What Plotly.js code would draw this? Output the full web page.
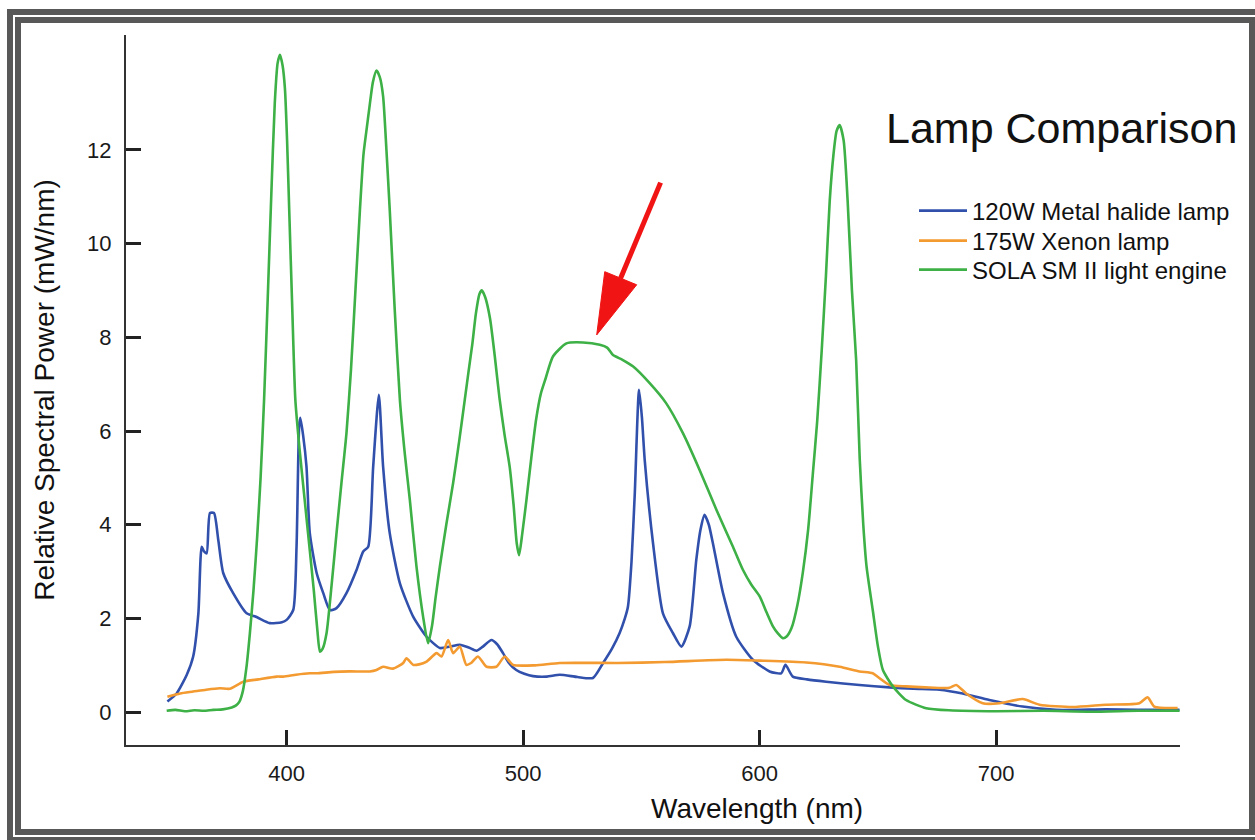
<!DOCTYPE html>
<html>
<head>
<meta charset="utf-8">
<script src="https://cdn.plot.ly/plotly-3.0.1.min.js"></script>
<style>
  html, body { margin: 0; padding: 0; background: #ffffff; }
  #wrap { position: relative; width: 1255px; height: 840px; overflow: hidden; }
  #chart { position: absolute; left: 0; top: 0; width: 1255px; height: 840px; }
  .frame { position: absolute; box-sizing: border-box; pointer-events: none; border-style: solid; border-color: #585858; }
  #frameOuter { left: 7px; top: 9px; width: 1262px; height: 834px; border-width: 6px; }
  #frameInner { left: 15px; top: 17px; width: 1240px; height: 818px; border-width: 6px; }
</style>
</head>
<body>
<div id="wrap">
  <div id="chart"></div>
  <div class="frame" id="frameOuter"></div>
  <div class="frame" id="frameInner"></div>
</div>
<script>
// ---------------- data ----------------
const seriesNames = ["120W Metal halide lamp", "175W Xenon lamp", "SOLA SM II light engine"];

const metalHalideWavelength = [349.6,353.5,357.8,360.5,362.7,364.1,365.1,366.2,367.6,369.3,371.1,373.2,377.4,383.1,387.3,392.9,398,400.0,402.8,404.2,405.3,405.8,407,408.4,409.8,412.7,415.5,418.3,421.1,425.3,429.6,432.4,434.5,436.6,439.0,440.8,443.6,447.9,453.5,459.2,464.8,469,473.2,477,480.3,483,486.6,489,491.5,494,497.1,500.5,504.2,510,515.5,523,529.5,533.8,537.5,540.8,543,544.3,545.8,547.2,549.0,550.2,551.4,554.9,559.1,563.3,566.9,570.4,573.2,575,576.7,578.5,580.2,584.5,590.1,597.1,604.2,609.1,610.9,614.0,620,628.1,642.2,654.9,665,676.0,685.8,697.1,711.2,725.3,746.4,760,777.5];
const metalHalidePower = [0.23,0.40,0.80,1.19,2.11,3.53,3.43,3.39,4.25,4.25,3.68,2.97,2.54,2.11,2.03,1.90,1.92,1.97,2.18,3.53,6.10,6.28,5.9,5.24,3.82,2.97,2.54,2.18,2.22,2.54,3.04,3.43,3.53,5.24,6.77,5.24,3.82,2.75,2.04,1.61,1.37,1.40,1.44,1.38,1.31,1.40,1.54,1.45,1.26,1.05,0.90,0.82,0.77,0.76,0.80,0.75,0.73,1.05,1.35,1.69,2.0,2.25,3.2,4.67,6.88,6.3,5.38,3.61,2.11,1.69,1.40,1.83,3.25,3.9,4.21,4.0,3.61,2.54,1.61,1.12,0.87,0.83,1.01,0.76,0.70,0.65,0.58,0.53,0.50,0.48,0.40,0.26,0.12,0.05,0.06,0.05,0.05];

const xenonWavelength = [349.6,355,360.5,366,371.8,376,381.7,388,395.8,398.6,404,409.8,412.7,420,426.7,435.2,438,440.8,445,449.3,450.7,453.5,456,459.2,463.4,465.5,468.3,470.4,473.2,476.0,478,480.9,484.5,488.7,492.2,495.7,505,515.5,540,560,585.9,600,619.7,633.8,642.2,647.8,650,655.0,661.9,670,680.2,683.1,687.3,694.3,701.4,711.2,718.3,732.3,746.4,760.5,764.0,766.8,776.7];
const xenonPower = [0.33,0.40,0.44,0.48,0.51,0.50,0.65,0.70,0.76,0.76,0.80,0.83,0.83,0.86,0.87,0.87,0.90,0.97,0.93,1.05,1.15,1.01,1.02,1.08,1.26,1.19,1.54,1.26,1.40,1.01,1.05,1.19,0.97,0.97,1.19,1.01,1.00,1.05,1.05,1.07,1.12,1.10,1.06,0.97,0.87,0.83,0.75,0.58,0.55,0.53,0.52,0.58,0.40,0.19,0.19,0.28,0.16,0.11,0.16,0.19,0.32,0.12,0.09];

const solaWavelength = [349.3,353,357,361,365,369,373,376.8,378.5,380,381.5,383,384.5,386,387.5,389,390.5,392,393.5,395,396.2,397.2,398.3,399.3,400.2,401.1,402.4,403.7,405.5,407.5,409.5,411.5,413,414.1,415.2,416.9,419,421.1,423.2,425.3,427.2,429.1,431.0,432.5,433.8,435,436.5,438.0,439.4,440.8,442.2,443.6,445.7,447.9,450,452.1,454.9,457.7,459.8,461.5,463,464.8,467.5,470.4,473,475.3,477,478.5,480,481.5,482.5,484,486,488,490,492.2,494.3,496,497.3,498.3,499.6,501.4,503.5,505.5,507.5,509.5,512.6,518.3,525.3,532.4,535.5,538.0,542,546.4,553.5,560.5,567.6,574.6,581.7,588.7,592.9,596.5,600.0,603,605.6,607.7,609.8,611.5,613.5,616,618.3,620.5,622.5,624.3,626.2,628,629.6,631.2,632.5,633.8,635.5,637.2,639,640.8,642.3,643.8,645.2,647.8,650,652.1,656.3,661.9,670.4,680,700,720,740,760,777.5];
const solaPower = [0.03,0.05,0.02,0.04,0.03,0.05,0.06,0.10,0.14,0.22,0.45,0.95,1.7,2.6,3.7,5.0,6.7,8.8,11.0,13.0,13.85,14.03,13.8,13.3,12.2,10.72,8.6,6.66,5.6,4.6,3.6,2.6,1.75,1.29,1.35,1.69,2.7,3.82,4.9,5.95,7.3,9.0,10.72,11.9,12.43,12.9,13.45,13.69,13.55,13.14,12.0,10.72,8.6,6.66,5.5,4.53,3.11,2.04,1.47,1.85,2.45,3.11,4.0,4.89,5.8,6.66,7.3,7.85,8.5,8.92,9.0,8.85,8.4,7.6,6.7,5.9,5.24,4.4,3.6,3.35,3.8,4.53,5.45,6.25,6.8,7.12,7.59,7.87,7.89,7.84,7.78,7.62,7.52,7.38,7.02,6.59,5.95,5.17,4.32,3.53,3.04,2.72,2.47,2.12,1.83,1.68,1.58,1.62,1.80,2.3,3.0,3.9,5.1,6.2,7.7,9.3,10.9,11.9,12.4,12.53,12.2,10.9,9.0,7.5,5.4,4.0,3.1,2.18,1.4,0.90,0.55,0.26,0.085,0.04,0.02,0.03,0.01,0.03,0.03];

const xTickValues = [400, 500, 600, 700];
const yTickValues = [0, 2, 4, 6, 8, 10, 12];

const chartTitle = "Lamp Comparison";
const xTitle = "Wavelength (nm)";
const yTitle = "Relative Spectral Power (mW/nm)";

// ---------------- drawing ----------------
const FONT = "'Liberation Sans', Arial, Helvetica, sans-serif";
const colors = ["#3150ac", "#f39a30", "#3db046"];
const legendIds = ["legend", "legend2", "legend3"];

function lineTrace(i, x, y) {
  return {
    type: "scatter", mode: "lines", name: seriesNames[i], x: x, y: y,
    legend: legendIds[i],
    line: { color: colors[i], width: 2.6, shape: "spline", smoothing: 0.6 },
    hoverinfo: "x+y+name"
  };
}

const traces = [
  lineTrace(0, metalHalideWavelength, metalHalidePower),
  lineTrace(1, xenonWavelength, xenonPower),
  lineTrace(2, solaWavelength, solaPower)
];

const axisCommon = {
  showgrid: false, zeroline: false, showline: true,
  linecolor: "#333333", linewidth: 2,
  ticks: "inside", ticklen: 15, tickwidth: 3, tickcolor: "#222222",
  tickfont: { family: FONT, size: 22, color: "#1a1a1a" },
  mirror: false
};

// plot area: x 126..1180, y 35..745 (pixels)
function paperY(px) { return (745 - px) / 710; }
function paperX(px) { return (px - 126) / 1054; }

function legendBox(py) {
  return {
    x: paperX(914), y: paperY(py), xanchor: "left", yanchor: "middle",
    xref: "paper", yref: "paper",
    bgcolor: "rgba(0,0,0,0)", borderwidth: 0,
    font: { family: FONT, size: 24, color: "#111111" },
    itemwidth: 48
  };
}

const layout = {
  width: 1255, height: 840,
  margin: { l: 126, r: 75, t: 35, b: 95 },
  paper_bgcolor: "#ffffff", plot_bgcolor: "#ffffff",
  font: { family: FONT, color: "#111111" },
  title: {
    text: chartTitle,
    font: { family: FONT, size: 43, color: "#111111" },
    x: 0.706, xanchor: "left", xref: "container",
    y: 0.848, yanchor: "middle", yref: "container"
  },
  xaxis: Object.assign({}, axisCommon, {
    range: [332.1, 777.7],
    tickmode: "array", tickvals: xTickValues,
    ticklabelstandoff: 8
  }),
  yaxis: Object.assign({}, axisCommon, {
    range: [-0.70, 14.45],
    tickmode: "array", tickvals: yTickValues,
    ticklabelstandoff: 8,
    title: { text: yTitle, font: { family: FONT, size: 28, color: "#111111" }, standoff: 24 }
  }),
  showlegend: true,
  legend: legendBox(211),
  legend2: legendBox(241),
  legend3: legendBox(270),
  annotations: [
    {
      text: xTitle, xref: "paper", yref: "paper",
      x: 0.599, y: -0.089, xanchor: "center", yanchor: "middle",
      showarrow: false, font: { family: FONT, size: 28, color: "#111111" }
    }
  ],
  shapes: [
    { type: "line", xref: "x", yref: "y", x0: 558.1, y0: 11.30, x1: 541.2, y1: 9.26,
      line: { color: "#f01414", width: 5 } },
    { type: "path", xref: "x", yref: "y", path: "M 534.5 9.40 L 548.0 9.12 L 531.1 8.05 Z",
      fillcolor: "#f01414", line: { color: "#f01414", width: 1 } }
  ]
};

Plotly.newPlot("chart", traces, layout, { displayModeBar: false });
</script>
</body>
</html>
